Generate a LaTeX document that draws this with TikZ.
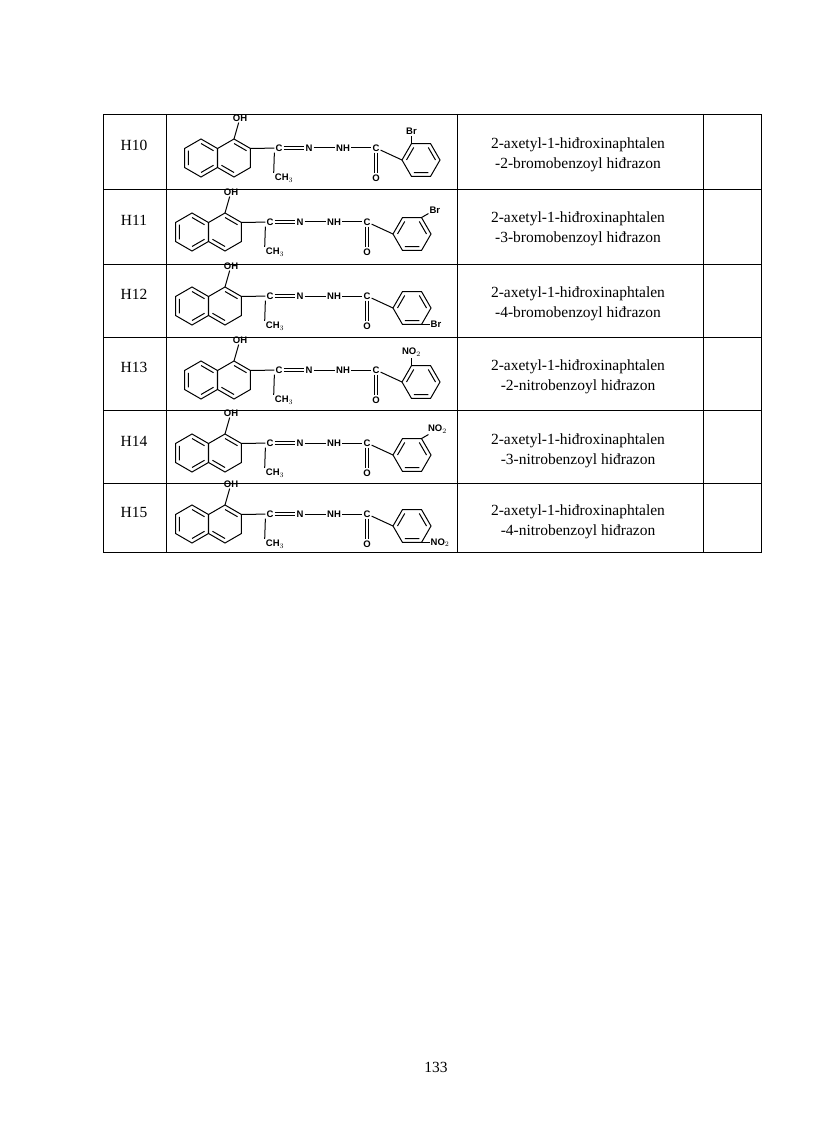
\documentclass[tikz,border=0pt]{standalone}
\usepackage{fontspec}
\setmainfont{Liberation Serif}
\newfontfamily\chemf{Liberation Sans}
\usetikzlibrary{calc}
\tikzset{
 grid/.style={line width=0.8pt},
 bond/.style={line width=1pt},
 atom/.style={font=\chemf\bfseries\fontsize{9.5}{10}\selectfont,inner sep=1pt},
 cell/.style={font=\fontsize{15.5}{20}\selectfont,align=center}
}
% #1 name, #2 x, #3 y, #4 substituent, #5 vertex angle, #6 bond direction
\newcommand\mol[6]{%
\begin{scope}[shift={(#2,#3)}]
 \draw[bond,shift={(-78,10)}] (-30:19)--(-90:19)--(-150:19)--(-210:19)--(-270:19)--(-330:19)--cycle;
 \draw[bond,shift={(-78,10)}] (-150:14.5)--(-210:14.5) (-270:14.5)--(-330:14.5) (-30:14.5)--(-90:14.5);
 \draw[bond,shift={(-45,10)}] (-30:19)--(-90:19)--(-150:19)--(-210:19)--(-270:19)--(-330:19)--cycle;
 \draw[bond,shift={(-45,10)}] (-90:14.5)--(-30:14.5) (-270:14.5)--(-210:14.5);
 \coordinate (#1v) at ($(-45,10)+(-30:19)$);
 \coordinate (#1o) at ($(-45,10)+(-90:19)$);
 \node[atom] (#1oh) at (-39,-30) {OH};
 \node[atom] (#1c) at (0,0) {C};
 \node[atom] (#1n) at (30,0) {N};
 \node[atom] (#1nh) at (64,0) {NH};
 \node[atom] (#1cc) at (97,0) {C};
 \node[atom] (#1ox) at (97,30) {O};
 \node[atom] (#1me) at (5,30) {CH$_3$};
 \draw[bond] (#1o)--(#1oh);
 \draw[bond] (#1v)--(#1c);
 \draw[bond] ([yshift=1.3pt]#1c.east)--([yshift=1.3pt]#1n.west) ([yshift=-1.3pt]#1c.east)--([yshift=-1.3pt]#1n.west);
 \draw[bond] (#1n)--(#1nh) (#1nh)--(#1cc);
 \draw[bond] ([xshift=-1.3pt]#1cc.south)--([xshift=-1.3pt]#1ox.north) ([xshift=1.3pt]#1cc.south)--([xshift=1.3pt]#1ox.north);
 \draw[bond] (#1c.south west)--(#1me.north west);
 \draw[bond,shift={(142,12)}] (0:19)--(60:19)--(120:19)--(180:19)--(240:19)--(300:19)--cycle;
 \draw[bond,shift={(142,12)}] (60:14.5)--(120:14.5) (180:14.5)--(240:14.5) (300:14.5)--(0:14.5);
 \coordinate (#1b) at ($(142,12)+(180:19)$);
 \draw[bond] (#1cc)--(#1b);
 \coordinate (#1s) at ($(142,12)+(-#5:19)$);
 \node[atom,anchor=#6+180] (#1x) at ($(#1s)+(-#6:8)$) {#4};
 \draw[bond] (#1s)--(#1x);
\end{scope}}
\begin{document}
\begin{tikzpicture}[x=1pt,y=-1pt]
\useasboundingbox (0,0) rectangle (816,1123);
\fill[white] (0,0) rectangle (816,1123);
\draw[grid] (103,114) rectangle (761,552);
\foreach \yy in {189,264,337,410,483} \draw[grid] (103,\yy)--(761,\yy);
\foreach \xx in {166,457,703} \draw[grid] (\xx,114)--(\xx,552);
\node[cell] (l10) at (134,145) {H10};
\node[cell] (l11) at (134,220) {H11};
\node[cell] (l12) at (134,294) {H12};
\node[cell] (l13) at (134,367) {H13};
\node[cell] (l14) at (134,441) {H14};
\node[cell] (l15) at (134,512) {H15};
\node[cell] (t10) at (578,155) {2-axetyl-1-hiđroxinaphtalen\\-2-bromobenzoyl hiđrazon};
\node[cell] (t11) at (578,229) {2-axetyl-1-hiđroxinaphtalen\\-3-bromobenzoyl hiđrazon};
\node[cell] (t12) at (578,304) {2-axetyl-1-hiđroxinaphtalen\\-4-bromobenzoyl hiđrazon};
\node[cell] (t13) at (578,377) {2-axetyl-1-hiđroxinaphtalen\\-2-nitrobenzoyl hiđrazon};
\node[cell] (t14) at (578,451) {2-axetyl-1-hiđroxinaphtalen\\-3-nitrobenzoyl hiđrazon};
\node[cell] (t15) at (578,522) {2-axetyl-1-hiđroxinaphtalen\\-4-nitrobenzoyl hiđrazon};
\mol{a}{279}{148}{Br}{120}{90}
\mol{b}{270}{222}{Br}{60}{30}
\mol{c}{270}{296}{Br}{300}{0}
\mol{d}{279}{370}{NO$_2$}{120}{90}
\mol{e}{270}{443}{NO$_2$}{60}{30}
\mol{f}{270}{514}{NO$_2$}{300}{0}
\node[cell] (pg) at (436,1067) {133};
\end{tikzpicture}
\end{document}
